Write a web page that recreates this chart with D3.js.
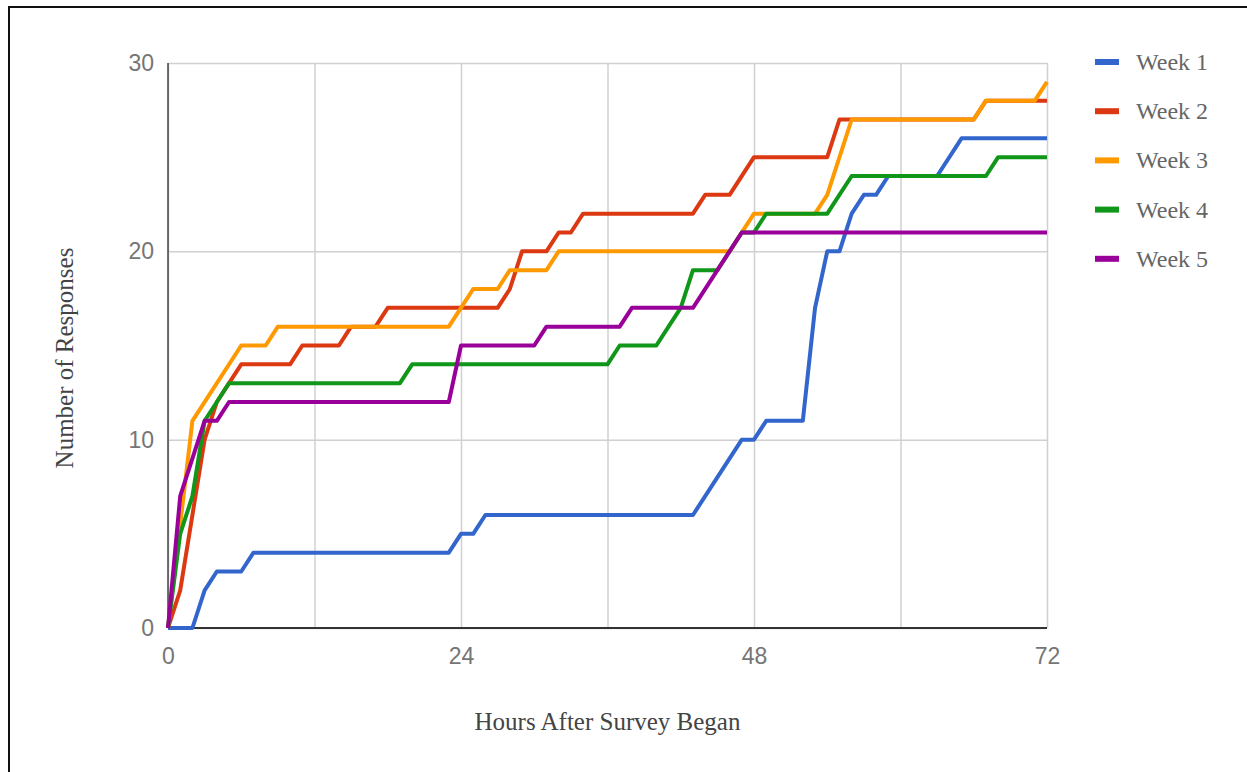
<!DOCTYPE html>
<html>
<head>
<meta charset="utf-8">
<script src="https://cdn.jsdelivr.net/npm/d3@7"></script>
<style>
  body { margin: 0; background: #fff; }
  svg { display: block; }
</style>
</head>
<body>
<div id="chart"></div>
<script>
// Data: [hour, cumulative responses]
const week1 = [[0,0],[2,0],[3,2],[4,3],[6,3],[7,4],[23,4],[24,5],[25,5],[26,6],[43,6],[47,10],[48,10],[49,11],[52,11],[53,17],[54,20],[55,20],[56,22],[57,23],[58,23],[59,24],[63,24],[65,26],[72,26]];
const week2 = [[0,0],[1,2],[3,10],[4,12],[5,13],[6,14],[10,14],[11,15],[14,15],[15,16],[17,16],[18,17],[27,17],[28,18],[29,20],[31,20],[32,21],[33,21],[34,22],[43,22],[44,23],[46,23],[48,25],[54,25],[55,27],[66,27],[67,28],[72,28]];
const week3 = [[0,0],[2,11],[6,15],[8,15],[9,16],[23,16],[24,17],[25,18],[27,18],[28,19],[31,19],[32,20],[46,20],[48,22],[53,22],[54,23],[56,27],[66,27],[67,28],[71,28],[72,29]];
const week4 = [[0,0],[1,5],[2,7],[3,11],[4,12],[5,13],[19,13],[20,14],[36,14],[37,15],[40,15],[41,16],[42,17],[43,19],[45,19],[46,20],[47,21],[48,21],[49,22],[54,22],[56,24],[67,24],[68,25],[72,25]];
const week5 = [[0,0],[1,7],[3,11],[4,11],[5,12],[23,12],[24,15],[30,15],[31,16],[37,16],[38,17],[43,17],[47,21],[72,21]];

const seriesNames = ['Week 1', 'Week 2', 'Week 3', 'Week 4', 'Week 5'];
const seriesColors = ['#3366cc', '#dc3912', '#ff9900', '#109618', '#990099'];
const seriesData = [week1, week2, week3, week4, week5];

const yTicks = [0, 10, 20, 30];
const xGridTicks = [0, 12, 24, 36, 48, 60, 72];
const xLabelTicks = [0, 24, 48, 72];

const w = 1247;
const h = 772;
const margin = { top: 63, right: 200, bottom: 144, left: 168 };

const svg = d3.select('#chart')
  .append('svg')
  .attr('width', w)
  .attr('height', h);

svg.append('rect')
  .attr('width', w).attr('height', h)
  .attr('fill', '#fff');

// frame around the picture
svg.append('rect')
  .attr('x', 9).attr('y', 7)
  .attr('width', 1400).attr('height', 1000)
  .attr('fill', 'none')
  .attr('stroke', '#111')
  .attr('stroke-width', 2);

const xScale = d3.scaleLinear()
  .domain([0, 72])
  .range([margin.left, w - margin.right]);

const yScale = d3.scaleLinear()
  .domain([0, 30])
  .range([h - margin.bottom, margin.top]);

const plotW = xScale.range()[1] - xScale.range()[0];
const plotH = yScale.range()[0] - yScale.range()[1];

// vertical gridlines
const xGrid = d3.axisBottom(xScale)
  .tickValues(xGridTicks)
  .tickSize(plotH)
  .tickFormat('');

svg.append('g')
  .classed('x-grid', true)
  .attr('transform', `translate(0, ${margin.top})`)
  .call(xGrid);

// y axis with horizontal gridlines
const yAxis = d3.axisLeft(yScale)
  .tickValues(yTicks)
  .tickSize(-plotW)
  .tickPadding(14);

svg.append('g')
  .classed('y-axis', true)
  .attr('transform', `translate(${margin.left}, 0)`)
  .call(yAxis);

// x axis labels
const xAxis = d3.axisBottom(xScale)
  .tickValues(xLabelTicks)
  .tickSize(0)
  .tickPadding(20);

svg.append('g')
  .classed('x-axis', true)
  .attr('transform', `translate(0, ${h - margin.bottom})`)
  .call(xAxis);

svg.selectAll('.domain').remove();

svg.selectAll('.tick line')
  .attr('stroke', '#d0d0d0')
  .attr('stroke-width', 1.5);

svg.selectAll('.tick text')
  .attr('fill', '#757575')
  .style('font-family', '"Liberation Sans", Arial, sans-serif')
  .style('font-size', '23px');

// dark baselines
svg.append('line')
  .attr('x1', margin.left).attr('x2', margin.left)
  .attr('y1', margin.top).attr('y2', h - margin.bottom)
  .attr('stroke', '#444').attr('stroke-width', 1.5);

svg.append('line')
  .attr('x1', margin.left).attr('x2', w - margin.right)
  .attr('y1', h - margin.bottom).attr('y2', h - margin.bottom)
  .attr('stroke', '#333').attr('stroke-width', 2);

// series lines
const line = d3.line()
  .x(d => xScale(d[0]))
  .y(d => yScale(d[1]));

seriesData.forEach((data, i) => {
  svg.append('path')
    .datum(data)
    .attr('fill', 'none')
    .attr('stroke', seriesColors[i])
    .attr('stroke-width', 4)
    .attr('stroke-linejoin', 'round')
    .attr('d', line);
});

// axis titles
svg.append('text')
  .attr('x', (xScale.range()[0] + xScale.range()[1]) / 2)
  .attr('y', 730)
  .attr('text-anchor', 'middle')
  .attr('fill', '#444')
  .style('font-family', '"Liberation Serif", "Times New Roman", serif')
  .style('font-size', '25px')
  .text('Hours After Survey Began');

svg.append('text')
  .attr('transform', 'translate(73, 358) rotate(-90)')
  .attr('text-anchor', 'middle')
  .attr('fill', '#444')
  .style('font-family', '"Liberation Serif", "Times New Roman", serif')
  .style('font-size', '25px')
  .text('Number of Responses');

// legend
const legend = svg.append('g')
  .attr('transform', 'translate(1095, 62)');

const legendItem = legend.selectAll('g')
  .data(seriesNames)
  .enter()
  .append('g')
  .attr('transform', (d, i) => `translate(0, ${i * 49.2})`);

legendItem.append('rect')
  .attr('x', 0).attr('y', -3)
  .attr('width', 24).attr('height', 6)
  .attr('fill', (d, i) => seriesColors[i]);

legendItem.append('text')
  .attr('x', 41)
  .attr('y', 0)
  .attr('dy', '0.33em')
  .attr('fill', '#666')
  .style('font-family', '"Liberation Serif", "Times New Roman", serif')
  .style('font-size', '24px')
  .text(d => d);
</script>
</body>
</html>
